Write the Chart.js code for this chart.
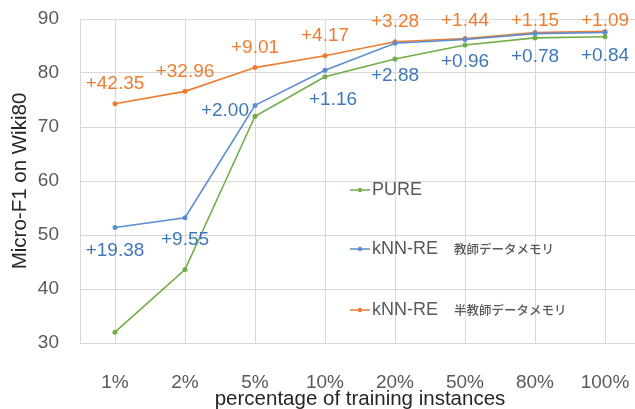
<!DOCTYPE html>
<html>
<head>
<meta charset="utf-8">
<script src="https://cdn.jsdelivr.net/npm/chart.js@4.4.0/dist/chart.umd.min.js"></script>
<style>
  html, body { margin: 0; padding: 0; background: #fff; overflow: hidden; }
  #wrap { width: 650px; height: 409px; }
</style>
</head>
<body>
<div id="wrap"><canvas id="chart"></canvas></div>
<script>
const categories = ['1%', '2%', '5%', '10%', '20%', '50%', '80%', '100%'];
const pure = [32.0, 43.6, 72.0, 79.3, 82.6, 85.2, 86.5, 86.7];
const knnTeacher = [51.4, 53.2, 74.0, 80.5, 85.5, 86.2, 87.3, 87.5];
const knnSemi = [74.3, 76.6, 81.0, 83.2, 85.8, 86.4, 87.5, 87.7];
const teacherGains = ['+19.38', '+9.55', '+2.00', '+1.16', '+2.88', '+0.96', '+0.78', '+0.84'];
const semiGains = ['+42.35', '+32.96', '+9.01', '+4.17', '+3.28', '+1.44', '+1.15', '+1.09'];
const yTicks = [30, 40, 50, 60, 70, 80, 90];

const GREEN = '#70AD47';
const BLUE = '#5B8ED0';
const ORANGE = '#ED7D31';
const FONT = "'Liberation Sans', Arial, sans-serif";

// where the blue labels sit relative to their point
const teacherLabelDy = [23, 22, 5, 29, 32, 22, 23, 23];
const teacherLabelDx = [0, 0, 0, 8, 0, 0, 0, 0];

const gainLabels = {
  id: 'gainLabels',
  afterDatasetsDraw(chart) {
    const ctx = chart.ctx;
    ctx.save();
    ctx.font = '19px ' + FONT;
    ctx.textBaseline = 'middle';

    let semi = chart.getDatasetMeta(2).data;
    ctx.fillStyle = ORANGE;
    ctx.textAlign = 'center';
    semi.forEach((pt, i) => {
      ctx.fillText(semiGains[i], pt.x, Math.max(pt.y - 20, 21));
    });

    let teacher = chart.getDatasetMeta(1).data;
    ctx.fillStyle = '#3F77B8';
    teacher.forEach((pt, i) => {
      if (i === 2) {
        ctx.textAlign = 'right';
        ctx.fillText(teacherGains[i], pt.x - 6, pt.y + teacherLabelDy[i]);
      } else {
        ctx.textAlign = 'center';
        ctx.fillText(teacherGains[i], pt.x + teacherLabelDx[i], pt.y + teacherLabelDy[i]);
      }
    });
    ctx.restore();
  }
};

const legendBox = {
  id: 'legendBox',
  afterDraw(chart) {
    const ctx = chart.ctx;
    const entries = [
      {color: GREEN, name: 'PURE', note: '', y: 190},
      {color: BLUE, name: 'kNN-RE', note: '教師データメモリ', y: 249},
      {color: ORANGE, name: 'kNN-RE', note: '半教師データメモリ', y: 310}
    ];
    ctx.save();
    ctx.textBaseline = 'middle';
    ctx.textAlign = 'left';
    entries.forEach(e => {
      ctx.strokeStyle = e.color;
      ctx.lineWidth = 1.5;
      ctx.beginPath();
      ctx.moveTo(350, e.y);
      ctx.lineTo(370, e.y);
      ctx.stroke();
      ctx.fillStyle = e.color;
      ctx.beginPath();
      ctx.arc(360, e.y, 2.2, 0, Math.PI * 2);
      ctx.fill();
      ctx.fillStyle = '#595959';
      ctx.font = '18px ' + FONT;
      ctx.fillText(e.name, 372, e.y);
      if (e.note) {
        let w = ctx.measureText(e.name).width;
        ctx.font = "500 12.5px 'Noto Sans CJK JP', sans-serif";
        ctx.fillText(e.note, 372 + w + 16, e.y);
      }
    });
    ctx.restore();
  }
};

function lineSet(label, data, color) {
  return {
    label: label,
    data: data,
    borderColor: color,
    backgroundColor: color,
    borderWidth: 1.6,
    pointRadius: 2.5,
    pointHoverRadius: 2.5,
    pointBorderWidth: 0,
    tension: 0
  };
}

new Chart(document.getElementById('chart').getContext('2d'), {
  type: 'line',
  data: {
    labels: categories,
    datasets: [
      lineSet('PURE', pure, GREEN),
      lineSet('kNN-RE 教師データメモリ', knnTeacher, BLUE),
      lineSet('kNN-RE 半教師データメモリ', knnSemi, ORANGE)
    ]
  },
  options: {
    responsive: true,
    maintainAspectRatio: false,
    animation: false,
    layout: { padding: { top: 19, right: 10, left: 0, bottom: 0 } },
    plugins: {
      legend: { display: false },
      tooltip: { enabled: false }
    },
    scales: {
      x: {
        offset: true,
        grid: { offset: false, color: '#D9D9D9', drawTicks: false },
        border: { color: '#D9D9D9' },
        ticks: { color: '#595959', font: { family: FONT, size: 19 }, padding: 28, maxRotation: 0 },
        title: { display: true, text: 'percentage of training instances', color: '#262626',
                 font: { family: FONT, size: 20.5 }, padding: { top: 0, bottom: -3 } },
        afterFit(scale) {
          scale.height = 66;
          scale.paddingLeft = 0;
          scale.paddingRight = 0;
        }
      },
      y: {
        min: 30,
        max: 90,
        afterBuildTicks(scale) { scale.ticks = yTicks.map(v => ({value: v})); },
        grid: { color: '#D9D9D9', drawTicks: false },
        border: { color: '#D9D9D9' },
        ticks: { color: '#595959', font: { family: FONT, size: 19 }, padding: 21 },
        title: { display: true, text: 'Micro-F1 on Wiki80', color: '#262626',
                 font: { family: FONT, size: 20.5 }, padding: { top: 8, bottom: 0 } },
        afterFit(scale) {
          scale.width = 80;
          scale.paddingTop = 0;
          scale.paddingBottom = 0;
        }
      }
    }
  },
  plugins: [gainLabels, legendBox]
});
</script>
</body>
</html>
